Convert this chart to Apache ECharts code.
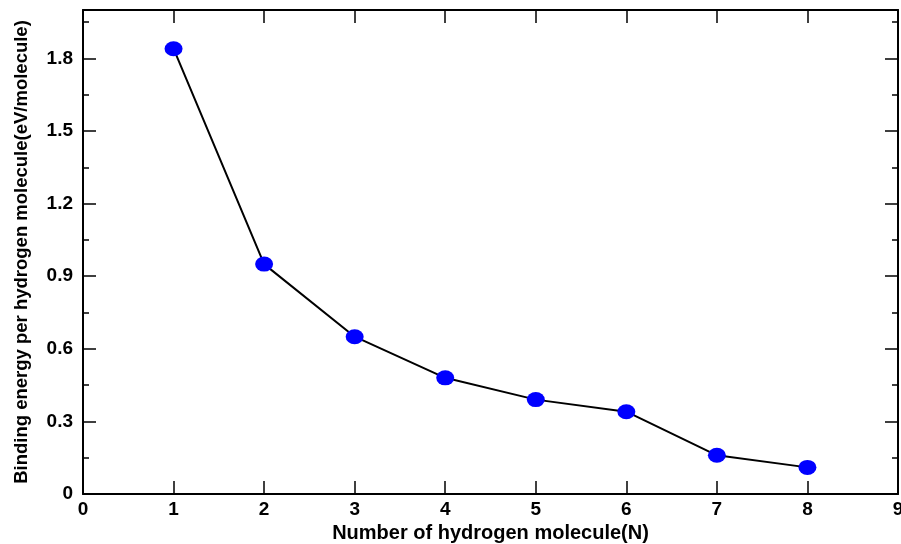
<!DOCTYPE html>
<html>
<head>
<meta charset="utf-8">
<script src="https://cdn.jsdelivr.net/npm/echarts@6/dist/echarts.min.js"></script>
<style>
  html, body { margin: 0; padding: 0; background: #fff; }
  #chart { width: 901px; height: 544px; }
</style>
</head>
<body>
<div id="chart"></div>
<script>
// Number of adsorbed H2 molecules and binding energy per molecule (eV)
const moleculeCounts = [1, 2, 3, 4, 5, 6, 7, 8];
const bindingEnergy = [1.84, 0.95, 0.65, 0.48, 0.39, 0.34, 0.16, 0.11];

const xTitle = 'Number of hydrogen molecule(N)';
const yTitle = 'Binding energy per hydrogen molecule(eV/molecule)';

const FONT = '"Liberation Sans", Arial, Helvetica, sans-serif';

const chart = echarts.init(document.getElementById('chart'), null, { renderer: 'canvas' });

const axisLine = { show: true, onZero: false, lineStyle: { color: '#000', width: 2 } };
const labelStyle = { color: '#000', fontFamily: FONT, fontWeight: 'bold', fontSize: 19 };

function xAxisDef(pos, showLabels) {
  return {
    type: 'value', position: pos, min: 0, max: 9, interval: 1,
    axisLine: axisLine,
    axisTick: { show: true, inside: true, length: 13, lineStyle: { color: '#000', width: 1.5 } },
    minorTick: { show: false },
    splitLine: { show: false },
    axisLabel: Object.assign({ show: showLabels, margin: 6 }, labelStyle),
    name: showLabels ? xTitle : '',
    nameLocation: 'middle', nameGap: 19,
    nameTextStyle: { color: '#000', fontFamily: FONT, fontWeight: 'bold', fontSize: 20 }
  };
}

function yAxisDef(pos, showLabels) {
  return {
    type: 'value', position: pos, min: 0, max: 2.0, interval: 0.3,
    axisLine: axisLine,
    axisTick: { show: true, inside: true, length: 13, lineStyle: { color: '#000', width: 1.5 } },
    minorTick: { show: true, splitNumber: 2, length: 6, lineStyle: { color: '#000', width: 1.5 } },
    splitLine: { show: false },
    axisLabel: Object.assign({
      show: showLabels, margin: 10, showMaxLabel: false,
      formatter: v => (v === 0 ? '0' : v.toFixed(1))
    }, labelStyle),
    name: showLabels ? yTitle : '',
    nameLocation: 'middle', nameGap: 52, nameRotate: 90,
    nameTextStyle: { color: '#000', fontFamily: FONT, fontWeight: 'bold', fontSize: 18.5 }
  };
}

chart.setOption({
  animation: false,
  backgroundColor: '#fff',
  grid: { left: 83, right: 3, top: 10, bottom: 50, containLabel: false, outerBoundsMode: 'none' },
  xAxis: [xAxisDef('bottom', true), xAxisDef('top', false)],
  yAxis: [yAxisDef('left', true), yAxisDef('right', false)],
  series: [{
    type: 'line',
    xAxisIndex: 0, yAxisIndex: 0,
    data: moleculeCounts.map((n, i) => [n, bindingEnergy[i]]),
    symbol: 'circle',
    symbolSize: [18, 15],
    itemStyle: { color: '#0000ff' },
    lineStyle: { color: '#000', width: 2 },
    z: 3
  }]
});
</script>
</body>
</html>
